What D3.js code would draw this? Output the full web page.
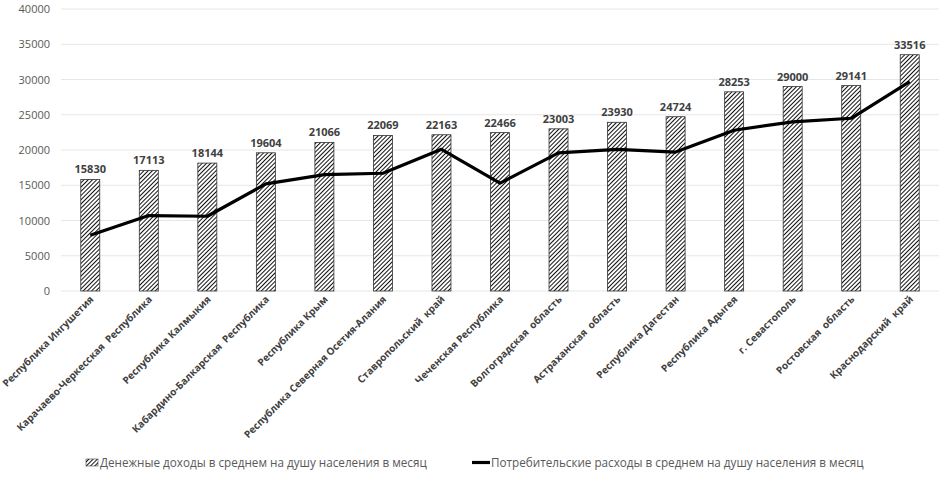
<!DOCTYPE html>
<html><head><meta charset="utf-8">
<script src="https://cdn.jsdelivr.net/npm/d3@7"></script>
<style>body{margin:0;background:#fff}text{font-family:"Open Sans",sans-serif}</style>
</head><body><svg id="c" width="946" height="477"></svg>
<script>
const categories = ["Республика Ингушетия","Карачаево-Черкесская  Республика","Республика Калмыкия","Кабардино-Балкарская  Республика","Республика Крым","Республика Северная Осетия-Алания","Ставропольский  край","Чеченская Республика","Волгоградская  область","Астраханская  область","Республика Дагестан","Республика Адыгея","г. Севастополь","Ростовская  область","Краснодарский  край"];
const incomes = [15830,17113,18144,19604,21066,22069,22163,22466,23003,23930,24724,28253,29000,29141,33516];
const expenses = [7900,10700,10600,15200,16500,16700,20100,15300,19600,20100,19700,22800,24000,24500,29700];
const yTicks = [0,5000,10000,15000,20000,25000,30000,35000,40000];
const seriesNames = ["Денежные доходы в среднем на душу населения в месяц","Потребительские расходы в среднем на душу населения в месяц"];

const svg = d3.select("#c");
const defs = svg.append("defs");
const pat = defs.append("pattern").attr("id","hatch").attr("patternUnits","userSpaceOnUse")
  .attr("width",3).attr("height",3).attr("patternTransform","rotate(45)");
pat.append("rect").attr("width",3).attr("height",3).attr("fill","#fff");
pat.append("line").attr("x1",0).attr("y1",0).attr("x2",0).attr("y2",3).attr("stroke","#111").attr("stroke-width",2);

const x = d3.scaleBand().domain(categories).range([61,939]);
const y = d3.scaleLinear().domain([0,40000]).range([291,9]);

// grid
svg.append("g").selectAll("line").data(yTicks).join("line")
  .attr("x1",61).attr("x2",939).attr("y1",d=>y(d)).attr("y2",d=>y(d))
  .attr("stroke","#e6e6e6").attr("stroke-width",1);

// y axis labels
const yAxis = d3.axisLeft(y).tickValues(yTicks).tickSize(0).tickPadding(0).tickFormat(d3.format("d"));
const ya = svg.append("g").attr("transform","translate(50,0)").call(yAxis);
ya.select(".domain").remove();
ya.selectAll("text").attr("fill","#595959").style("font-size","11px").style("font-family","Open Sans");

// bars
const bw = 19;
svg.append("g").selectAll("rect").data(incomes).join("rect")
  .attr("x",(d,i)=>x(categories[i])+x.bandwidth()/2-bw/2).attr("width",bw)
  .attr("y",d=>y(d)).attr("height",d=>y(0)-y(d))
  .attr("fill","url(#hatch)").attr("stroke","#333").attr("stroke-width",0.8);

// value labels
svg.append("g").selectAll("text").data(incomes).join("text")
  .attr("x",(d,i)=>x(categories[i])+x.bandwidth()/2).attr("y",d=>y(d)-6)
  .attr("text-anchor","middle").attr("fill","#404040").style("font-size","11px").style("font-weight","bold")
  .text(d=>d);

// line
const line = d3.line().x((d,i)=>x(categories[i])+x.bandwidth()/2).y(d=>y(d));
svg.append("path").datum(expenses).attr("d",line).attr("fill","none").attr("stroke","#000").attr("stroke-width",3.2).attr("stroke-linejoin","round");

// category labels
svg.append("g").selectAll("text").data(categories).join("text")
  .attr("transform",d=>`translate(${x(d)+x.bandwidth()/2+4},${300}) rotate(-45)`)
  .attr("text-anchor","end").attr("fill","#404040").style("font-size","10px").style("font-weight","bold")
  .attr("xml:space","preserve").style("white-space","pre")
  .text(d=>d);

// legend
const lg = svg.append("g");
lg.append("rect").attr("x",86).attr("y",459).attr("width",12).attr("height",7).attr("fill","url(#hatch)").attr("stroke","#444").attr("stroke-width",0.6);
lg.append("text").attr("x",100).attr("y",467).attr("fill","#595959").style("font-size","11.7px").text(seriesNames[0]);
lg.append("line").attr("x1",472).attr("x2",490).attr("y1",462.5).attr("y2",462.5).attr("stroke","#000").attr("stroke-width",3.2);
lg.append("text").attr("x",491).attr("y",467).attr("fill","#595959").style("font-size","11.7px").text(seriesNames[1]);
</script></body></html>
